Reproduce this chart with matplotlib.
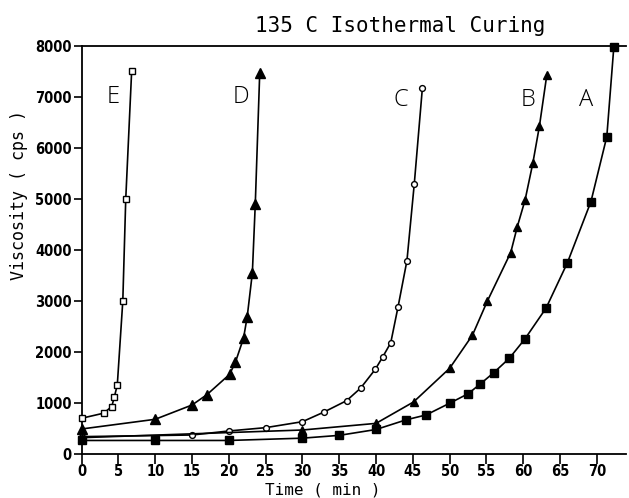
import matplotlib
matplotlib.use("Agg")
import matplotlib.pyplot as plt

# viscosity (cps) vs time (min) at 135 C, five formulations
time_e = [0, 3.0, 4.1, 4.45, 4.85, 5.6, 6.0, 6.8]
visc_e = [700, 800, 930, 1120, 1350, 3000, 5000, 7500]

time_d = [0, 10, 15, 17, 20.1, 20.9, 22.0, 22.5, 23.2, 23.6, 24.2]
visc_d = [490, 680, 960, 1160, 1560, 1800, 2270, 2690, 3550, 4910, 7470]

time_c = [0, 15, 20, 25, 30, 32.9, 36.0, 37.9, 39.9, 40.9, 42.0, 43.0, 44.2, 45.2, 46.3]
visc_c = [340, 372, 451, 516, 633, 820, 1045, 1290, 1660, 1900, 2180, 2890, 3790, 5300, 7180]

time_b = [0, 30, 40, 45.1, 50.0, 53.1, 55.1, 58.3, 59.2, 60.25, 61.3, 62.2, 63.2]
visc_b = [320, 470, 600, 1020, 1680, 2330, 2990, 3950, 4460, 4980, 5700, 6430, 7430]

time_a = [0, 10, 20, 30, 35, 40, 44.1, 46.8, 50.0, 52.5, 54.1, 56.0, 58.1, 60.2,
          63.1, 66.0, 69.2, 71.35, 72.3]
visc_a = [265, 265, 265, 310, 365, 480, 670, 765, 995, 1180, 1365, 1595, 1875, 2250,
          2860, 3750, 4950, 6220, 7970]

curve_names = ["E", "D", "C", "B", "A"]
name_x = [4.3, 21.6, 43.3, 60.6, 68.6]
name_y = [7000, 7000, 6950, 6950, 6950]

x_ticks = list(range(0, 75, 5))
y_ticks = list(range(0, 8001, 1000))

tick_font = dict(family=["DejaVu Sans"], weight="bold", size=10.5, stretch="condensed")
mono = ["DejaVu Sans Mono"]

fig = plt.figure(figsize=(6.29, 4.98), dpi=100)
ax = fig.add_axes([0.1297, 0.0884, 0.866, 0.8193])

lw = 1.2
ax.plot(time_e, visc_e, "-", color="black", lw=lw, marker="s", ms=5,
        mfc="white", mec="black", mew=1.0, clip_on=False, zorder=3)
ax.plot(time_d, visc_d, "-", color="black", lw=lw, marker="^", ms=6.5,
        mfc="black", mec="black", clip_on=False, zorder=3)
ax.plot(time_c, visc_c, "-", color="black", lw=lw, marker="o", ms=4.2,
        mfc="white", mec="black", mew=1.0, clip_on=False, zorder=3)
ax.plot(time_b, visc_b, "-", color="black", lw=lw, marker="^", ms=6,
        mfc="black", mec="black", clip_on=False, zorder=3)
ax.plot(time_a, visc_a, "-", color="black", lw=lw, marker="s", ms=5.8,
        mfc="black", mec="black", clip_on=False, zorder=3)

for name, nx, ny in zip(curve_names, name_x, name_y):
    ax.text(nx, ny, name, ha="center", va="center", fontsize=17,
            family=["Open Sans", "DejaVu Sans"], fontweight="light")

ax.set_xlim(0, 74)
ax.set_ylim(0, 8000)
ax.set_xticks(x_ticks)
ax.set_yticks(y_ticks)
ax.set_xticklabels([str(t) for t in x_ticks], fontdict=tick_font)
ax.set_yticklabels([str(t) for t in y_ticks], fontdict=tick_font)
ax.tick_params(axis="x", direction="out", length=7, width=1.2, pad=0)
ax.tick_params(axis="y", direction="out", length=6, width=1.2, pad=1)

ax.spines["right"].set_visible(False)
for side in ("left", "bottom", "top"):
    ax.spines[side].set_linewidth(1.3)

fig.text(0.636, 0.948, "135 C Isothermal Curing", ha="center", va="center",
         fontsize=15, family=mono)
fig.text(0.513, 0.016, "Time ( min )", ha="center", va="center",
         fontsize=11.5, family=mono)
fig.text(0.030, 0.608, "Viscosity ( cps )", ha="center", va="center",
         rotation=90, fontsize=12, family=mono)

fig.savefig("out.png", dpi=100)
